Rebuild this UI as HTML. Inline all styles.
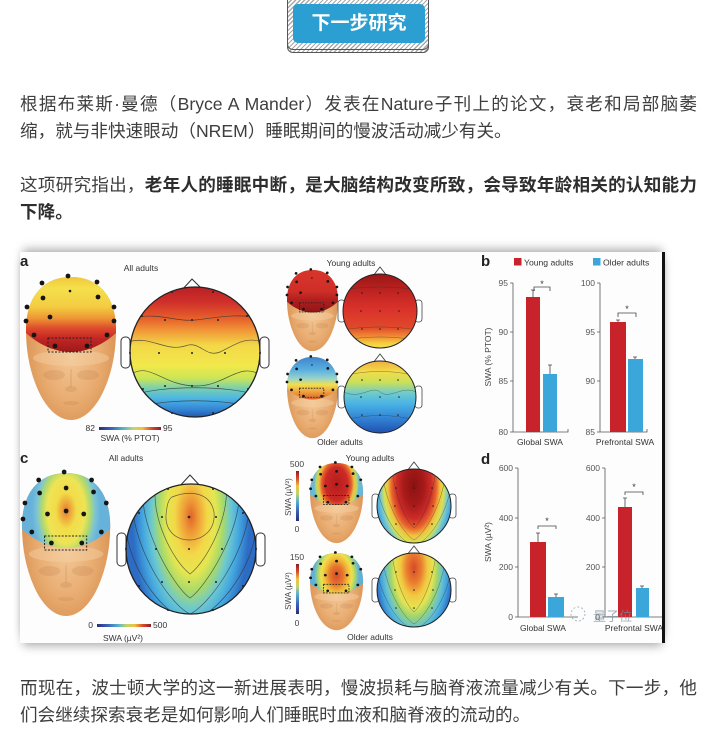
<!DOCTYPE html>
<html><head><meta charset="utf-8">
<style>
html,body{margin:0;padding:0;background:#fff;width:709px;height:734px;overflow:hidden;position:relative;}
.t{position:absolute;left:20px;width:677px;height:27px;line-height:27px;font-family:"Liberation Sans","Noto Sans CJK SC",sans-serif;font-size:17.6px;color:#3e3e3e;}
.j{text-align:justify;text-align-last:justify;}
.t b{color:#2e2e2e;font-weight:bold;}
.btnb{position:absolute;left:287px;top:-6px;width:140px;border:1px solid #555;border-radius:6px;background:repeating-linear-gradient(135deg,#fff 0 2px,#a8a8a8 2px 3.2px);}
.fig{position:absolute;left:20px;top:252px;width:645px;height:391px;background:#fdfdfd;box-shadow:0 -6px 9px -3px rgba(0,0,0,.32),0 6px 9px -3px rgba(0,0,0,.32);}
svg text{font-family:"Liberation Sans",Arial,sans-serif;}
</style></head><body>

<div class="btnb" style="height:57px;"></div>
<div class="btnb" style="height:54px;"></div>
<div style="position:absolute;left:293px;top:4px;width:132px;height:39px;border-radius:5px;background:#2b9fd2;color:#fff;font-family:'Liberation Sans','Noto Sans CJK SC',sans-serif;font-weight:bold;font-size:19px;line-height:40px;text-align:center;">下一步研究</div>

<div class="t j" style="top:91px;">根据布莱斯·曼德（Bryce A Mander）发表在Nature子刊上的论文，衰老和局部脑萎</div>
<div class="t" style="top:118px;">缩，就与非快速眼动（NREM）睡眠期间的慢波活动减少有关。</div>
<div class="t j" style="top:172px;">这项研究指出，<b>老年人的睡眠中断，是大脑结构改变所致，会导致年龄相关的认知能力</b></div>
<div class="t" style="top:199px;"><b>下降。</b></div>

<div class="fig"></div>

<div class="t j" style="top:675px;">而现在，波士顿大学的这一新进展表明，慢波损耗与脑脊液流量减少有关。下一步，他</div>
<div class="t" style="top:702px;">们会继续探索衰老是如何影响人们睡眠时血液和脑脊液的流动的。</div>

<svg width="709" height="734" viewBox="0 0 709 734" style="position:absolute;left:0;top:0;" xmlns="http://www.w3.org/2000/svg">
<defs>
  <radialGradient id="skinG" cx=".5" cy=".55" r=".62">
    <stop offset="0" stop-color="#f3c796"/><stop offset=".5" stop-color="#e9ad72"/><stop offset=".85" stop-color="#da9454"/><stop offset="1" stop-color="#c07840"/>
  </radialGradient>
  <linearGradient id="capA" x1="0" y1="0" x2="0" y2="1">
    <stop offset="0" stop-color="#f0c83a"/><stop offset=".15" stop-color="#f5e04c"/><stop offset=".4" stop-color="#f3cc42"/><stop offset=".55" stop-color="#ee9634"/><stop offset=".68" stop-color="#de4c2c"/><stop offset=".82" stop-color="#c22624"/><stop offset="1" stop-color="#9a1a1a"/>
  </linearGradient>
  <linearGradient id="capAy" x1="0" y1="0" x2="0" y2="1">
    <stop offset="0" stop-color="#d8352c"/><stop offset=".5" stop-color="#cf2e28"/><stop offset=".7" stop-color="#b0201e"/><stop offset="1" stop-color="#8e1616"/>
  </linearGradient>
  <linearGradient id="capAo" x1="0" y1="0" x2="0" y2="1">
    <stop offset="0" stop-color="#3f86cc"/><stop offset=".3" stop-color="#5aaee0"/><stop offset=".5" stop-color="#96d2cc"/><stop offset=".65" stop-color="#f0e050"/><stop offset=".8" stop-color="#f0a840"/><stop offset="1" stop-color="#d8602c"/>
  </linearGradient>
  <radialGradient id="capC" cx=".5" cy=".5" r=".5" gradientTransform="translate(.5 .5) scale(.78 1.6) translate(-.5 -.5)">
    <stop offset="0" stop-color="#e07a30"/><stop offset=".12" stop-color="#eda23a"/><stop offset=".3" stop-color="#f2dc48"/><stop offset=".55" stop-color="#eee456"/><stop offset=".7" stop-color="#b2da6a"/><stop offset=".85" stop-color="#7cc4d4"/><stop offset="1" stop-color="#66b2da"/>
  </radialGradient>
  <radialGradient id="capCy" cx=".5" cy=".5" r=".5" gradientTransform="translate(.5 .5) scale(.85 1.6) translate(-.5 -.5)">
    <stop offset="0" stop-color="#b41c1c"/><stop offset=".5" stop-color="#cc2a26"/><stop offset=".66" stop-color="#e4602c"/><stop offset=".78" stop-color="#f0c040"/><stop offset=".9" stop-color="#b8d868"/><stop offset="1" stop-color="#6ab8d8"/>
  </radialGradient>
  <radialGradient id="capCo" cx=".5" cy=".55" r=".5" gradientTransform="translate(.5 .55) scale(.85 1.6) translate(-.5 -.55)">
    <stop offset="0" stop-color="#d44a2a"/><stop offset=".3" stop-color="#e8782e"/><stop offset=".5" stop-color="#f0b83a"/><stop offset=".68" stop-color="#f2e04a"/><stop offset=".82" stop-color="#a8d870"/><stop offset="1" stop-color="#60b0d8"/>
  </radialGradient>

  <linearGradient id="topoA" x1="0" y1="0" x2="0" y2="1">
    <stop offset="0" stop-color="#b82024"/><stop offset=".12" stop-color="#d0302a"/><stop offset=".25" stop-color="#e8642c"/><stop offset=".35" stop-color="#f2a03a"/><stop offset=".45" stop-color="#f3d848"/><stop offset=".6" stop-color="#f2e84a"/><stop offset=".7" stop-color="#cce656"/><stop offset=".78" stop-color="#78cfb0"/><stop offset=".86" stop-color="#4cb4e4"/><stop offset=".94" stop-color="#3486d4"/><stop offset="1" stop-color="#2458b0"/>
  </linearGradient>
  <linearGradient id="topoAy" x1="0" y1="0" x2="0" y2="1">
    <stop offset="0" stop-color="#9a1616"/><stop offset=".25" stop-color="#c02422"/><stop offset=".45" stop-color="#d8302a"/><stop offset=".72" stop-color="#e0482a"/><stop offset=".84" stop-color="#f08a34"/><stop offset=".94" stop-color="#f5d040"/><stop offset="1" stop-color="#f3e050"/>
  </linearGradient>
  <linearGradient id="topoAo" x1="0" y1="0" x2="0" y2="1">
    <stop offset="0" stop-color="#f0b040"/><stop offset=".15" stop-color="#f2dc48"/><stop offset=".3" stop-color="#c8e05a"/><stop offset=".45" stop-color="#6ccad0"/><stop offset=".6" stop-color="#48b2e4"/><stop offset=".8" stop-color="#3282d4"/><stop offset="1" stop-color="#2050b0"/>
  </linearGradient>
  <radialGradient id="topoC" cx=".5" cy=".25" r=".75" gradientTransform="translate(.5 .25) scale(.6 1.4) translate(-.5 -.25)">
    <stop offset="0" stop-color="#e0642a"/><stop offset=".12" stop-color="#ee9a36"/><stop offset=".28" stop-color="#f3d848"/><stop offset=".42" stop-color="#e6e650"/><stop offset=".55" stop-color="#a8da6a"/><stop offset=".68" stop-color="#6cc8d0"/><stop offset=".82" stop-color="#44a8e0"/><stop offset="1" stop-color="#2c6cc4"/>
  </radialGradient>
  <radialGradient id="topoCy" cx=".5" cy=".22" r=".8" gradientTransform="translate(.5 .22) scale(.7 1.35) translate(-.5 -.22)">
    <stop offset="0" stop-color="#8a1212"/><stop offset=".25" stop-color="#a81a1a"/><stop offset=".42" stop-color="#cc2c28"/><stop offset=".54" stop-color="#e8642c"/><stop offset=".63" stop-color="#f2c040"/><stop offset=".72" stop-color="#d8e250"/><stop offset=".81" stop-color="#7ccac8"/><stop offset=".91" stop-color="#48a8e0"/><stop offset="1" stop-color="#2c6cc4"/>
  </radialGradient>
  <radialGradient id="topoCo" cx=".5" cy=".2" r=".8" gradientTransform="translate(.5 .2) scale(.65 1.35) translate(-.5 -.2)">
    <stop offset="0" stop-color="#d84a2a"/><stop offset=".2" stop-color="#ea8030"/><stop offset=".35" stop-color="#f2c840"/><stop offset=".5" stop-color="#e4e452"/><stop offset=".62" stop-color="#9cd470"/><stop offset=".75" stop-color="#64c2d4"/><stop offset=".88" stop-color="#40a0dc"/><stop offset="1" stop-color="#2c6cc4"/>
  </radialGradient>
  <linearGradient id="jet" x1="0" y1="0" x2="1" y2="0">
    <stop offset="0" stop-color="#2c2c7c"/><stop offset=".2" stop-color="#3a64b8"/><stop offset=".4" stop-color="#5ab4cc"/><stop offset=".55" stop-color="#c4d468"/><stop offset=".7" stop-color="#f0c040"/><stop offset=".85" stop-color="#d84a2c"/><stop offset="1" stop-color="#8c1c28"/>
  </linearGradient>
  <linearGradient id="jetV" x1="0" y1="1" x2="0" y2="0">
    <stop offset="0" stop-color="#2c2c7c"/><stop offset=".2" stop-color="#3a64b8"/><stop offset=".4" stop-color="#5ab4cc"/><stop offset=".55" stop-color="#c4d468"/><stop offset=".7" stop-color="#f0c040"/><stop offset=".85" stop-color="#d84a2c"/><stop offset="1" stop-color="#8c1c28"/>
  </linearGradient>

  <path id="skin" d="M45,0 C72,0 90,19 90,53 C90,75 86,95 78,113 C70,131 58,143 45,143 C32,143 20,131 12,113 C4,95 0,75 0,53 C0,19 18,0 45,0 Z"/>
  <path id="cap" d="M45,0 C72,0 90,19 90,53 L90,56 C78,67 62,75 45,75 C28,75 12,67 0,56 L0,53 C0,19 18,0 45,0 Z"/>
  <g id="face">
    <ellipse cx="45" cy="81" rx="38" ry="8" fill="#f5d0a4" opacity=".45"/>
    <ellipse cx="28" cy="98" rx="11" ry="5" fill="#b07040" opacity=".18"/>
    <ellipse cx="62" cy="98" rx="11" ry="5" fill="#b07040" opacity=".18"/>
    <path d="M45,92 L45,110" stroke="#b07040" stroke-width="2" opacity=".15"/>
    <ellipse cx="45" cy="112" rx="6" ry="3" fill="#b07040" opacity=".18"/>
    <ellipse cx="45" cy="126" rx="8" ry="2" fill="#b07040" opacity=".16"/>
  </g>
  <g id="dotsA" fill="#151515">
    <circle cx="42" cy="-1" r="2.4"/><circle cx="16" cy="6" r="2.4"/><circle cx="71" cy="5" r="2.4"/>
    <circle cx="17" cy="21" r="2.4"/><circle cx="72" cy="20" r="2.4"/><circle cx="1" cy="30" r="2.4"/>
    <circle cx="88" cy="30" r="2.4"/><circle cx="24" cy="40" r="2.4"/><circle cx="0" cy="44" r="2.4"/>
    <circle cx="88" cy="44" r="2.4"/><circle cx="8" cy="58" r="2.4"/><circle cx="81" cy="58" r="2.4"/>
    <circle cx="29" cy="69" r="2.4"/><circle cx="61" cy="69" r="2.4"/><circle cx="44" cy="14" r="1.3"/>
  </g>
  <g id="dotsC" fill="#151515">
    <circle cx="43" cy="-1" r="2.4"/><circle cx="17" cy="7" r="2.4"/><circle cx="71" cy="7" r="2.4"/>
    <circle cx="18" cy="20" r="2.4"/><circle cx="45" cy="15" r="2.4"/><circle cx="73" cy="19" r="2.4"/>
    <circle cx="3" cy="30" r="2.4"/><circle cx="86" cy="30" r="2.4"/><circle cx="1" cy="46" r="2.4"/>
    <circle cx="26" cy="41" r="2.4"/><circle cx="45" cy="38" r="2.4"/><circle cx="63" cy="41" r="2.4"/>
    <circle cx="10" cy="59" r="2.4"/><circle cx="81" cy="59" r="2.4"/><circle cx="30" cy="70" r="2.4"/><circle cx="61" cy="70" r="2.4"/>
  </g>
  <clipPath id="clA"><circle cx="195" cy="352" r="65"/></clipPath>
  <clipPath id="clAy"><circle cx="380" cy="311" r="37"/></clipPath>
  <clipPath id="clAo"><circle cx="380" cy="397" r="36"/></clipPath>
  <clipPath id="clC"><circle cx="191" cy="549" r="65"/></clipPath>
  <clipPath id="clCy"><circle cx="414" cy="506" r="37"/></clipPath>
  <clipPath id="clCo"><circle cx="414" cy="590" r="37"/></clipPath>
</defs>

<!-- ===== Panel a ===== -->
<text x="20" y="266" font-size="15" font-weight="bold" fill="#222">a</text>
<text x="141" y="271" font-size="8.5" fill="#333" text-anchor="middle">All adults</text>

<g transform="translate(26,277)">
  <use href="#skin" fill="url(#skinG)"/>
  <use href="#face"/>
  <use href="#cap" fill="url(#capA)"/>
  <rect x="22" y="61" width="43" height="14" fill="none" stroke="#222" stroke-width="1" stroke-dasharray="2,1.5"/>
  <use href="#dotsA"/>
</g>

<!-- topo a -->
<rect x="121" y="337" width="9" height="31" rx="4" fill="#fff" stroke="#333" stroke-width="1"/>
<rect x="260" y="337" width="9" height="31" rx="4" fill="#fff" stroke="#333" stroke-width="1"/>
<path d="M181,291 L192,279 L204,291" fill="#fff" stroke="#333" stroke-width="1.1"/>
<circle cx="195" cy="352" r="65" fill="url(#topoA)"/>
<g clip-path="url(#clA)" fill="none" stroke="#333" stroke-width=".7" opacity=".8">
  <path d="M128,318 C160,312 175,322 195,320 C215,318 235,313 262,318"/>
  <path d="M128,342 C150,335 165,352 185,346 C200,340 205,358 220,352 C235,345 245,336 262,342"/>
  <path d="M128,376 C150,360 160,385 195,386 C225,387 240,360 262,376"/>
  <path d="M130,396 C160,385 230,385 260,396"/>
  <path d="M140,406 C175,399 215,399 250,406"/>
</g>
<circle cx="195" cy="352" r="65" fill="none" stroke="#222" stroke-width="1.3"/>
<g fill="#222">
  <circle cx="165" cy="320" r="1"/><circle cx="192" cy="320" r="1"/><circle cx="218" cy="320" r="1"/>
  <circle cx="159" cy="353" r="1"/><circle cx="192" cy="353" r="1"/><circle cx="225" cy="353" r="1"/>
  <circle cx="165" cy="386" r="1"/><circle cx="192" cy="386" r="1"/><circle cx="218" cy="386" r="1"/>
  <circle cx="130" cy="353" r="1"/><circle cx="260" cy="353" r="1"/><circle cx="172" cy="292" r="1"/><circle cx="213" cy="292" r="1"/>
  <circle cx="142" cy="316" r="1"/><circle cx="247" cy="316" r="1"/><circle cx="143" cy="389" r="1"/><circle cx="248" cy="389" r="1"/>
  <circle cx="172" cy="413" r="1"/><circle cx="213" cy="413" r="1"/>
</g>
<!-- colorbar a -->
<text x="95" y="431" font-size="8.5" fill="#333" text-anchor="end">82</text>
<rect x="99" y="427" width="62" height="3" fill="url(#jet)"/>
<text x="163" y="431" font-size="8.5" fill="#333">95</text>
<text x="130" y="441" font-size="8.5" fill="#333" text-anchor="middle">SWA (% PTOT)</text>

<!-- young / older a -->
<text x="351" y="266" font-size="8.5" fill="#333" text-anchor="middle">Young adults</text>
<g transform="translate(287,270) scale(.567)">
  <use href="#skin" fill="url(#skinG)"/>
  <use href="#face"/>
  <use href="#cap" fill="url(#capAy)"/>
  <rect x="22" y="58" width="43" height="16" fill="none" stroke="#222" stroke-width="1.5" stroke-dasharray="3,2"/>
  <use href="#dotsA"/>
</g>
<rect x="338" y="300" width="7" height="22" rx="3" fill="#fff" stroke="#444" stroke-width=".8"/>
<rect x="415" y="300" width="7" height="22" rx="3" fill="#fff" stroke="#444" stroke-width=".8"/>
<path d="M373,276 L380,267 L387,276" fill="#fff" stroke="#444" stroke-width=".9"/>
<circle cx="380" cy="311" r="37" fill="url(#topoAy)"/>
<g clip-path="url(#clAy)" fill="none" stroke="#333" stroke-width=".5" opacity=".6">
  <path d="M343,290 C365,286 395,286 417,290"/>
  <path d="M343,330 C365,326 395,326 417,330"/>
  <path d="M343,340 C370,336 390,336 417,340"/>
</g>
<circle cx="380" cy="311" r="37" fill="none" stroke="#222" stroke-width="1"/>
<g fill="#222"><circle cx="362" cy="293" r=".8"/><circle cx="380" cy="293" r=".8"/><circle cx="398" cy="293" r=".8"/><circle cx="361" cy="311" r=".8"/><circle cx="380" cy="311" r=".8"/><circle cx="399" cy="311" r=".8"/><circle cx="362" cy="329" r=".8"/><circle cx="380" cy="329" r=".8"/><circle cx="398" cy="329" r=".8"/></g>

<g transform="translate(287,357) scale(.567)">
  <use href="#skin" fill="url(#skinG)"/>
  <use href="#face"/>
  <use href="#cap" fill="url(#capAo)"/>
  <rect x="22" y="55" width="43" height="16" fill="none" stroke="#222" stroke-width="1.5" stroke-dasharray="3,2"/>
  <use href="#dotsA"/>
</g>
<rect x="338" y="386" width="7" height="22" rx="3" fill="#fff" stroke="#444" stroke-width=".8"/>
<rect x="415" y="386" width="7" height="22" rx="3" fill="#fff" stroke="#444" stroke-width=".8"/>
<path d="M373,363 L380,354 L387,363" fill="#fff" stroke="#444" stroke-width=".9"/>
<circle cx="380" cy="397" r="36" fill="url(#topoAo)"/>
<g clip-path="url(#clAo)" fill="none" stroke="#333" stroke-width=".5" opacity=".6">
  <path d="M344,376 C365,370 395,370 416,376"/>
  <path d="M344,392 C360,400 372,385 380,392 C390,400 402,385 416,392"/>
  <path d="M344,420 C370,414 390,414 416,420"/>
</g>
<circle cx="380" cy="397" r="36" fill="none" stroke="#222" stroke-width="1"/>
<g fill="#222"><circle cx="362" cy="380" r=".8"/><circle cx="380" cy="380" r=".8"/><circle cx="398" cy="380" r=".8"/><circle cx="361" cy="397" r=".8"/><circle cx="380" cy="397" r=".8"/><circle cx="399" cy="397" r=".8"/><circle cx="362" cy="415" r=".8"/><circle cx="380" cy="415" r=".8"/><circle cx="398" cy="415" r=".8"/></g>
<text x="340" y="445" font-size="8.5" fill="#333" text-anchor="middle">Older adults</text>

<!-- ===== Panel b ===== -->
<text x="481" y="266" font-size="15" font-weight="bold" fill="#222">b</text>
<rect x="514" y="258" width="7.5" height="7.5" fill="#c8232b"/>
<text x="524" y="265.5" font-size="8.6" fill="#333">Young adults</text>
<rect x="593" y="258" width="7.5" height="7.5" fill="#3aa6da"/>
<text x="603" y="265.5" font-size="8.6" fill="#333">Older adults</text>

<g stroke="#555" stroke-width=".8" fill="none">
  <path d="M513,283 L513,432 L568,432 L568,429"/>
  <path d="M510,283 L513,283 M510,332 L513,332 M510,381 L513,381 M510,432 L513,432"/>
  <path d="M600,283 L600,432 L647,432 L647,429"/>
  <path d="M597,283 L600,283 M597,332 L600,332 M597,381 L600,381 M597,432 L600,432"/>
</g>
<g font-size="8.5" fill="#555" text-anchor="end">
  <text x="508" y="286">95</text><text x="508" y="335">90</text><text x="508" y="384">85</text><text x="508" y="435">80</text>
  <text x="595" y="286">100</text><text x="595" y="335">95</text><text x="595" y="384">90</text><text x="595" y="435">85</text>
</g>
<text transform="translate(491,357) rotate(-90)" font-size="8.5" fill="#444" text-anchor="middle">SWA (% PTOT)</text>
<rect x="526" y="297" width="14" height="135" fill="#c8232b"/>
<rect x="543" y="374" width="14" height="58" fill="#3aa6da"/>
<rect x="610" y="322" width="16" height="110" fill="#c8232b"/>
<rect x="628" y="359" width="15" height="73" fill="#3aa6da"/>
<g stroke="#444" stroke-width=".8" fill="none">
  <path d="M533,290 L533,297 M531,290 L535,290"/>
  <path d="M550,365 L550,374 M548,365 L552,365"/>
  <path d="M618,320 L618,322 M616,320 L620,320"/>
  <path d="M635,357 L635,359 M633,357 L637,357"/>
  <path d="M534,291 L534,287 L550,287 L550,291"/>
  <path d="M618,317 L618,313 L636,313 L636,317"/>
</g>
<text x="542" y="287" font-size="9" fill="#333" text-anchor="middle">*</text>
<text x="627" y="312" font-size="9" fill="#333" text-anchor="middle">*</text>
<text x="540" y="445" font-size="8.5" fill="#333" text-anchor="middle">Global SWA</text>
<text x="625" y="445" font-size="8.5" fill="#333" text-anchor="middle">Prefrontal SWA</text>

<!-- ===== Panel c ===== -->
<text x="20" y="463" font-size="15" font-weight="bold" fill="#222">c</text>
<text x="126" y="461" font-size="8.5" fill="#333" text-anchor="middle">All adults</text>
<g transform="translate(22,473) scale(.98,1)">
  <use href="#skin" fill="url(#skinG)"/>
  <use href="#face"/>
  <use href="#cap" fill="url(#capC)"/>
  <rect x="23" y="63" width="43" height="14" fill="none" stroke="#222" stroke-width="1" stroke-dasharray="2,1.5"/>
  <use href="#dotsC"/>
</g>
<rect x="117" y="533" width="9" height="33" rx="4" fill="#fff" stroke="#333" stroke-width="1"/>
<rect x="256" y="533" width="9" height="33" rx="4" fill="#fff" stroke="#333" stroke-width="1"/>
<path d="M178,488 L190,475 L202,488" fill="#fff" stroke="#333" stroke-width="1.1"/>
<circle cx="191" cy="549" r="65" fill="url(#topoC)"/>
<g clip-path="url(#clC)" fill="none" stroke="#333" stroke-width=".7" opacity=".75">
  <path d="M172,497 C190,490 210,492 214,512 C216,532 200,540 190,540 C175,540 165,530 166,515 C167,505 168,500 172,497 Z"/>
  <path d="M156,484 C150,515 172,560 190,574 C208,560 230,515 226,484"/>
  <path d="M143,490 C140,530 175,588 190,598 C205,588 242,530 239,490"/>
  <path d="M132,505 C136,555 172,606 190,614 C208,606 246,555 250,505"/>
  <path d="M126,530 C132,575 165,615 190,622 C215,615 250,575 256,530"/>
</g>
<circle cx="191" cy="549" r="65" fill="none" stroke="#222" stroke-width="1.3"/>
<g fill="#222">
  <circle cx="162" cy="517" r="1"/><circle cx="189" cy="517" r="1.3"/><circle cx="216" cy="517" r="1"/>
  <circle cx="156" cy="549" r="1"/><circle cx="189" cy="549" r="1"/><circle cx="222" cy="549" r="1"/>
  <circle cx="162" cy="582" r="1"/><circle cx="189" cy="582" r="1"/><circle cx="216" cy="582" r="1"/>
  <circle cx="126" cy="549" r="1"/><circle cx="256" cy="549" r="1"/><circle cx="168" cy="489" r="1"/><circle cx="213" cy="489" r="1"/>
  <circle cx="139" cy="513" r="1"/><circle cx="243" cy="513" r="1"/><circle cx="139" cy="586" r="1"/><circle cx="243" cy="586" r="1"/>
  <circle cx="168" cy="610" r="1"/><circle cx="213" cy="610" r="1"/>
</g>
<text x="93" y="628" font-size="8.5" fill="#333" text-anchor="end">0</text>
<rect x="97" y="624" width="54" height="3" fill="url(#jet)"/>
<text x="153" y="628" font-size="8.5" fill="#333">500</text>
<text x="123" y="641" font-size="8.5" fill="#333" text-anchor="middle">SWA (µV²)</text>

<!-- young / older c -->
<text x="370" y="461" font-size="8.5" fill="#333" text-anchor="middle">Young adults</text>
<text x="297" y="467" font-size="8.5" fill="#444" text-anchor="middle">500</text>
<rect x="296" y="471" width="3" height="50" fill="url(#jetV)"/>
<text x="297" y="532" font-size="8.5" fill="#444" text-anchor="middle">0</text>
<text transform="translate(291,497) rotate(-90)" font-size="8" fill="#444" text-anchor="middle">SWA (µV²)</text>
<g transform="translate(310,463) scale(.59,.56)">
  <use href="#skin" fill="url(#skinG)"/>
  <use href="#face"/>
  <use href="#cap" fill="url(#capCy)"/>
  <rect x="23" y="58" width="43" height="16" fill="none" stroke="#222" stroke-width="1.5" stroke-dasharray="3,2"/>
  <use href="#dotsC"/>
</g>
<rect x="372" y="494" width="7" height="24" rx="3" fill="#fff" stroke="#444" stroke-width=".8"/>
<rect x="449" y="494" width="7" height="24" rx="3" fill="#fff" stroke="#444" stroke-width=".8"/>
<path d="M407,471 L414,462 L421,471" fill="#fff" stroke="#444" stroke-width=".9"/>
<circle cx="414" cy="506" r="37" fill="url(#topoCy)"/>
<g clip-path="url(#clCy)" fill="none" stroke="#333" stroke-width=".5" opacity=".6">
  <path d="M392,470 C395,495 405,520 414,528 C423,520 433,495 436,470"/>
  <path d="M383,478 C388,510 405,535 414,540 C423,535 440,510 445,478"/>
  <path d="M378,492 C385,522 402,542 414,546 C426,542 443,522 450,492"/>
</g>
<circle cx="414" cy="506" r="37" fill="none" stroke="#222" stroke-width="1"/>
<g fill="#222"><circle cx="396" cy="488" r=".8"/><circle cx="414" cy="488" r=".8"/><circle cx="432" cy="488" r=".8"/><circle cx="395" cy="506" r=".8"/><circle cx="414" cy="506" r=".8"/><circle cx="433" cy="506" r=".8"/><circle cx="396" cy="524" r=".8"/><circle cx="414" cy="524" r=".8"/><circle cx="432" cy="524" r=".8"/></g>

<text x="297" y="560" font-size="8.5" fill="#444" text-anchor="middle">150</text>
<rect x="296" y="564" width="3" height="50" fill="url(#jetV)"/>
<text x="297" y="626" font-size="8.5" fill="#444" text-anchor="middle">0</text>
<text transform="translate(291,591) rotate(-90)" font-size="8" fill="#444" text-anchor="middle">SWA (µV²)</text>
<g transform="translate(310,553) scale(.59,.54)">
  <use href="#skin" fill="url(#skinG)"/>
  <use href="#face"/>
  <use href="#cap" fill="url(#capCo)"/>
  <rect x="23" y="58" width="43" height="16" fill="none" stroke="#222" stroke-width="1.5" stroke-dasharray="3,2"/>
  <use href="#dotsC"/>
</g>
<rect x="372" y="578" width="7" height="24" rx="3" fill="#fff" stroke="#444" stroke-width=".8"/>
<rect x="449" y="578" width="7" height="24" rx="3" fill="#fff" stroke="#444" stroke-width=".8"/>
<path d="M407,555 L414,546 L421,555" fill="#fff" stroke="#444" stroke-width=".9"/>
<circle cx="414" cy="590" r="37" fill="url(#topoCo)"/>
<g clip-path="url(#clCo)" fill="none" stroke="#333" stroke-width=".5" opacity=".6">
  <path d="M392,554 C395,579 405,604 414,612 C423,604 433,579 436,554"/>
  <path d="M383,562 C388,594 405,619 414,624 C423,619 440,594 445,562"/>
  <path d="M378,576 C385,606 402,626 414,630 C426,626 443,606 450,576"/>
</g>
<circle cx="414" cy="590" r="37" fill="none" stroke="#222" stroke-width="1"/>
<g fill="#222"><circle cx="396" cy="572" r=".8"/><circle cx="414" cy="572" r=".8"/><circle cx="432" cy="572" r=".8"/><circle cx="395" cy="590" r=".8"/><circle cx="414" cy="590" r=".8"/><circle cx="433" cy="590" r=".8"/><circle cx="396" cy="608" r=".8"/><circle cx="414" cy="608" r=".8"/><circle cx="432" cy="608" r=".8"/></g>
<text x="370" y="640" font-size="8.5" fill="#333" text-anchor="middle">Older adults</text>

<!-- ===== Panel d ===== -->
<text x="481" y="464" font-size="15" font-weight="bold" fill="#222">d</text>
<g stroke="#555" stroke-width=".8" fill="none">
  <path d="M518,468 L518,617 L578,617"/>
  <path d="M515,468 L518,468 M515,518 L518,518 M515,567 L518,567 M515,617 L518,617"/>
  <path d="M605,468 L605,617 L662,617"/>
  <path d="M602,468 L605,468 M602,518 L605,518 M602,567 L605,567 M602,617 L605,617"/>
</g>
<g font-size="8.5" fill="#555" text-anchor="end">
  <text x="513" y="471">600</text><text x="513" y="521">400</text><text x="513" y="570">200</text><text x="513" y="620">0</text>
  <text x="600" y="471">600</text><text x="600" y="521">400</text><text x="600" y="570">200</text><text x="600" y="620">0</text>
</g>
<text transform="translate(491,542) rotate(-90)" font-size="8.5" fill="#444" text-anchor="middle">SWA (µV²)</text>
<rect x="530" y="542" width="16" height="75" fill="#c8232b"/>
<rect x="548" y="597" width="16" height="20" fill="#3aa6da"/>
<rect x="618" y="507" width="14" height="110" fill="#c8232b"/>
<rect x="636" y="588" width="13" height="29" fill="#3aa6da"/>
<g stroke="#444" stroke-width=".8" fill="none">
  <path d="M538,533 L538,542 M536,533 L540,533"/>
  <path d="M556,594 L556,597 M554,594 L558,594"/>
  <path d="M625,498 L625,507 M623,498 L627,498"/>
  <path d="M642,586 L642,588 M640,586 L644,586"/>
  <path d="M538,529 L538,526 L556,526 L556,529"/>
  <path d="M625,495 L625,492 L643,492 L643,495"/>
</g>
<text x="547" y="524" font-size="9" fill="#333" text-anchor="middle">*</text>
<text x="634" y="490" font-size="9" fill="#333" text-anchor="middle">*</text>
<text x="543" y="631" font-size="8.5" fill="#333" text-anchor="middle">Global SWA</text>
<text x="634" y="631" font-size="8.5" fill="#333" text-anchor="middle">Prefrontal SWA</text>

<!-- watermark -->
<g opacity=".7">
  <circle cx="578" cy="614" r="7" fill="none" stroke="#8a9aa8" stroke-width="1" stroke-dasharray="2,2"/>
  <text x="593" y="621" font-size="13" fill="#7c8e9e" font-family="'Liberation Sans','Noto Sans CJK SC',sans-serif">量子位</text>
</g>

<!-- right black edge -->
<rect x="662" y="252" width="3" height="391" fill="#111"/>
</svg>
</body></html>
